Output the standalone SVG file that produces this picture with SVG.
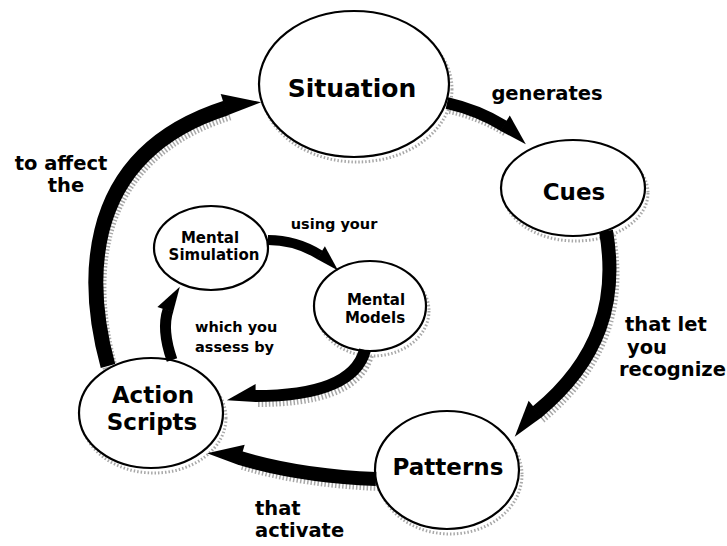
<svg xmlns="http://www.w3.org/2000/svg" width="727" height="546" viewBox="0 0 727 546">
  <style>
    .node ellipse { fill: #fff; stroke: #000; stroke-width: 2.2; }
    .shade ellipse, .shade path { fill: none; stroke: #a8a8a8; stroke-dasharray: 1.5 2; }
    text { font-family: "DejaVu Sans", "Liberation Sans", sans-serif; font-weight: bold; fill: #000; }
    .big { font-size: 24px; text-anchor: middle; }
    .small { font-size: 15px; text-anchor: middle; }
    .lbl { font-size: 19.5px; }
    .ilbl { font-size: 14.5px; }
    .conn path { fill: none; stroke: #000; stroke-linecap: butt; }
    .hl { marker-end: url(#headL); }
    .hr { marker-end: url(#headR); }
  </style>
  <defs>
    <marker id="headL" markerUnits="strokeWidth" viewBox="0 -1 2.4 2" markerWidth="2.4" markerHeight="2" refX="0.05" refY="0" orient="auto" overflow="visible">
      <path d="M0,0.5 L0,-1 L2.4,0.35 z" fill="#000"/>
    </marker>
    <marker id="headR" markerUnits="strokeWidth" viewBox="0 -1 2.4 2" markerWidth="2.4" markerHeight="2" refX="0.05" refY="0" orient="auto" overflow="visible">
      <path d="M0,-0.5 L0,1 L2.4,-0.35 z" fill="#000"/>
    </marker>
  </defs>
  <rect width="727" height="546" fill="#fff"/>

  <g id="shading" class="shade" transform="translate(3,5)">
    <ellipse cx="354" cy="84" rx="95" ry="73" stroke-width="3"/>
    <ellipse cx="573" cy="188" rx="72" ry="48" stroke-width="3"/>
    <ellipse cx="447" cy="470" rx="72" ry="59" stroke-width="3"/>
    <ellipse cx="151" cy="413" rx="72" ry="55" stroke-width="3"/>
    <ellipse cx="370" cy="306" rx="56" ry="45" stroke-width="3"/>
    <path d="M447,103 Q478,110 504,126" stroke-width="12"/>
    <path d="M606,231 C618,300 600,360 537,412" stroke-width="14"/>
    <path d="M376,479 Q300,476 240,458" stroke-width="14"/>
    <path d="M108,366 C90,300 70,158 226,108" stroke-width="15"/>
    <path d="M365,350 C356,384 312,396 255,396" stroke-width="12"/>
  </g>

  <g id="situation" class="node">
    <ellipse cx="354" cy="84" rx="95" ry="73"/>
    <text class="big" x="352" y="97" style="font-size:25px">Situation</text>
  </g>
  <g id="cues" class="node">
    <ellipse cx="573" cy="188" rx="72" ry="48"/>
    <text class="big" x="574" y="200" style="font-size:23px">Cues</text>
  </g>
  <g id="patterns" class="node">
    <ellipse cx="447" cy="470" rx="72" ry="59"/>
    <text class="big" x="448" y="475" style="font-size:23px">Patterns</text>
  </g>
  <g id="action-scripts" class="node">
    <ellipse cx="151" cy="413" rx="72" ry="55"/>
    <text class="big" x="153" y="403" style="font-size:23px">Action</text>
    <text class="big" x="152" y="430" style="font-size:23px">Scripts</text>
  </g>
  <g id="mental-simulation" class="node">
    <ellipse cx="211" cy="248" rx="57" ry="42"/>
    <text class="small" x="210" y="243">Mental</text>
    <text class="small" x="214" y="260">Simulation</text>
  </g>
  <g id="mental-models" class="node">
    <ellipse cx="370" cy="306" rx="56" ry="45"/>
    <text class="small" x="376" y="305">Mental</text>
    <text class="small" x="375" y="323">Models</text>
  </g>

  <g id="connectors" class="conn">
    <path class="hl" d="M447,103 Q478,110 504,126" stroke-width="12"/>
    <path class="hr" d="M606,231 C618,300 600,360 537,412" stroke-width="14"/>
    <path class="hr" d="M376,479 Q300,476 240,458" stroke-width="14"/>
    <path class="hl" d="M108,366 C90,300 70,158 226,108" stroke-width="15"/>
    <path class="hl" d="M268,240 Q296,240 320,255" stroke-width="10"/>
    <path class="hr" d="M365,350 C356,384 312,396 255,396" stroke-width="12"/>
    <path class="hl" d="M172,360 C165,340 164,322 168,310" stroke-width="11"/>
  </g>

  <g id="labels">
    <text class="lbl" x="547" y="100" text-anchor="middle">generates</text>
    <text class="lbl" x="61" y="170" text-anchor="middle">to affect</text>
    <text class="lbl" x="66" y="192" text-anchor="middle">the</text>
    <text class="lbl" x="625" y="331">that let</text>
    <text class="lbl" x="627" y="354">you</text>
    <text class="lbl" x="619" y="376">recognize</text>
    <text class="lbl" x="255" y="515">that</text>
    <text class="lbl" x="255" y="537">activate</text>
    <text class="ilbl" x="334" y="229" text-anchor="middle">using your</text>
    <text class="ilbl" x="195" y="332">which you</text>
    <text class="ilbl" x="195" y="352">assess by</text>
  </g>
</svg>
